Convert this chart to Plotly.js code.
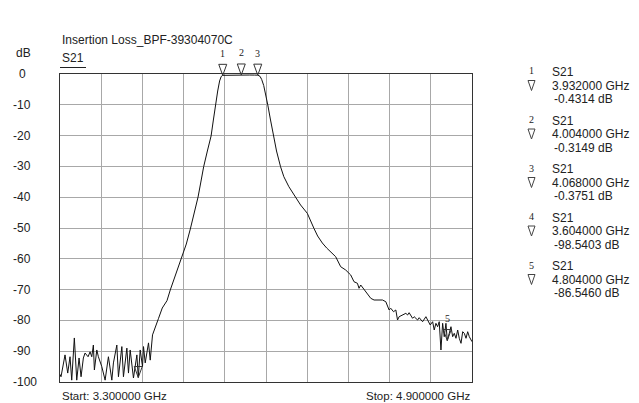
<!DOCTYPE html>
<html>
<head>
<meta charset="utf-8">
<script src="https://cdn.plot.ly/plotly-3.0.1.min.js"></script>
<style>
html,body{margin:0;padding:0;background:#fff;}
#chart{width:639px;height:403px;}
</style>
</head>
<body>
<div id="chart"></div>
<script>
// ---- data ----
const chartTitle = "Insertion Loss_BPF-39304070C";
const traceName = "S21";
const startLabel = "Start: 3.300000 GHz";
const stopLabel = "Stop: 4.900000 GHz";

const freqGHz = [
  3.300,3.3039,3.3195,3.3300,3.3389,3.3455,3.3557,3.3650,3.3740,3.3818,
  3.3907,3.3973,3.4090,3.4168,3.4234,3.4296,3.4335,3.4429,3.4491,3.4623,
  3.4752,3.4880,3.5013,3.5075,3.5207,3.5270,3.5402,3.5464,3.5597,3.5659,
  3.5725,3.5853,3.5986,3.6040,3.6114,3.6204,3.6243,3.6309,3.6437,3.6504,
  3.6593,3.6671,
  3.6827,3.6971,3.7154,3.7282,3.7477,3.7730,3.7905,3.8061,3.8217,3.8361,
  3.8470,3.8579,3.8723,3.8867,3.8956,3.9034,3.9124,3.9198,3.9260,3.932,
  3.950,3.975,4.004,4.035,4.055,4.068,
  4.0767,4.0833,4.0911,4.0981,4.1070,4.1168,4.1281,4.1409,4.1565,4.1693,
  4.1888,4.2149,4.2343,4.2604,4.2733,4.2861,4.3005,4.3188,4.3356,4.3511,
  4.3706,4.3901,4.4095,4.4290,4.4418,4.4551,4.4613,4.4679,4.4874,4.5069,
  4.5197,4.5524,4.5653,4.5781,4.5847,4.5952,4.6042,4.6108,4.6170,4.6303,
  4.6431,4.6497,4.6559,4.6692,4.6754,4.6887,4.6949,4.7081,4.7210,4.7276,
  4.7377,4.7471,4.7533,4.7599,4.7665,4.7727,4.7794,4.7860,4.7922,4.7988,
  4.804,4.8117,4.8183,4.8249,4.8312,4.8378,4.8444,4.8506,4.8573,4.8639,
  4.8701,4.8767,4.8833,4.8895,4.8962,4.900
];
const s21dB = [
  -97.5,-98.3,-91.2,-97.1,-91.8,-99.4,-85.7,-99.4,-92.2,-98.3,
  -92.2,-90.6,-91.8,-90.2,-91.8,-88.0,-96.1,-89.6,-91.8,-95.0,
  -99.4,-91.8,-99.4,-93.8,-88.0,-98.3,-88.5,-98.3,-89.0,-97.1,
  -89.6,-98.7,-91.2,-98.54,-89.6,-95.0,-88.5,-93.8,-87.3,-92.9,
  -84.7,-83.1,
  -79.32,-75.98,-73.60,-70.13,-65.59,-59.90,-55.20,-50.33,-45.13,-39.94,
  -35.07,-30.10,-25.00,-20.13,-14.94,-10.07,-5.52,-2.27,-0.81,-0.4314,
  -0.38,-0.34,-0.3149,-0.33,-0.35,-0.3751,
  -0.75,-1.79,-3.73,-6.27,-10.07,-14.61,-20.13,-25.00,-30.10,-33.34,
  -36.59,-39.94,-42.53,-45.23,-47.40,-50.10,-52.60,-54.87,-56.49,-57.79,
  -59.32,-62.57,-63.64,-65.26,-67.44,-67.96,-69.58,-68.51,-70.68,-72.83,
  -73.38,-73.38,-73.93,-76.62,-76.07,-77.18,-76.62,-79.87,-78.80,-78.25,
  -77.70,-78.25,-77.50,-79.32,-78.80,-79.87,-79.12,-80.42,-78.80,-79.87,
  -81.49,-80.42,-83.12,-80.94,-82.05,-80.42,-89.61,-80.94,-85.29,-80.94,
  -86.546,-84.19,-82.05,-85.29,-84.19,-85.81,-83.12,-85.81,-87.44,-83.67,
  -84.19,-85.81,-83.67,-85.29,-86.36,-86.91
];

const markerNums  = ["1","2","3","4","5"];
const markerFreqs = [3.932, 4.004, 4.068, 3.604, 4.804];
const markerVals  = [-0.4314, -0.3149, -0.3751, -98.5403, -86.5460];
const markerShowLabel = [true, true, true, false, true];
const markerFreqText = ["3.932000 GHz","4.004000 GHz","4.068000 GHz","3.604000 GHz","4.804000 GHz"];
const markerValText  = ["-0.4314 dB","-0.3149 dB","-0.3751 dB","-98.5403 dB","-86.5460 dB"];

const xRange = [3.3, 4.9];
const yRange = [-100, 0];
const yTickVals   = [0,-10,-20,-30,-40,-50,-60,-70,-80,-90,-100];
const yTickLabels = ["0","-10","-20","-30","-40","-50","-60","-70","-80","-90","-100"];

// ---- layout helpers (pixel -> paper) ----
const M = {l:60, r:167, t:74, b:21};
const W = 639, H = 403;
const PW = W - M.l - M.r, PH = H - M.t - M.b;
const px2x = p => (p - M.l) / PW;
const py2y = p => (H - M.b - p) / PH;
const val2paperY = v => (v - yRange[0]) / (yRange[1] - yRange[0]);

const sansFont = {family:"Liberation Sans, Arial, sans-serif", size:12, color:"#222"};
const smallSans = {family:"Liberation Sans, Arial, sans-serif", size:11.5, color:"#222"};
const serifFont = {family:"Liberation Serif, Times New Roman, serif", size:10, color:"#222"};

const annotations = [];
const shapes = [];

// title, S21 label, dB unit
annotations.push({text:chartTitle, xref:"paper", yref:"paper", x:px2x(60), y:py2y(40), xanchor:"left", yanchor:"middle", showarrow:false, font:sansFont});
annotations.push({text:traceName, xref:"paper", yref:"paper", x:px2x(60), y:py2y(58), xanchor:"left", yanchor:"middle", showarrow:false, font:sansFont});
annotations.push({text:"dB", xref:"paper", yref:"paper", x:px2x(14), y:py2y(53), xanchor:"left", yanchor:"middle", showarrow:false, font:sansFont});
shapes.push({type:"line", xref:"paper", yref:"paper", x0:px2x(60), x1:px2x(86), y0:py2y(67.5), y1:py2y(67.5), line:{color:"#222", width:1}});

// y tick labels on the axis scale
yTickVals.forEach((v,i)=>{
  const lbl = yTickLabels[i];
  annotations.push({text:lbl, xref:"paper", yref:"y", x:px2x(lbl.startsWith("-")?11:17), y:v, xanchor:"left", yanchor:"middle", showarrow:false, font:sansFont});
});

// start / stop
annotations.push({text:startLabel, xref:"paper", yref:"paper", x:px2x(60), y:py2y(395.5), xanchor:"left", yanchor:"middle", showarrow:false, font:smallSans});
annotations.push({text:stopLabel, xref:"paper", yref:"paper", x:px2x(471.5), y:py2y(395.5), xanchor:"right", yanchor:"middle", showarrow:false, font:smallSans});

// markers on trace (open down-triangles, tip on the data point)
markerFreqs.forEach((f,i)=>{
  shapes.push({type:"path", xref:"x", yref:"paper", xsizemode:"pixel", ysizemode:"pixel",
    xanchor:f, yanchor:val2paperY(markerVals[i]), path:"M -4 11 L 4 11 L 0 0 Z",
    line:{color:"#333", width:1}, fillcolor:"rgba(255,255,255,0)"});
  if (markerShowLabel[i]) {
    annotations.push({text:markerNums[i], xref:"x", yref:"y", x:f, y:markerVals[i], yshift:22, xanchor:"center", yanchor:"middle", showarrow:false, font:serifFont});
  }
});

// right-side marker table
const rowTop = 72, rowGap = 13.5, blockGap = 48.5;
markerNums.forEach((n,i)=>{
  const y0 = rowTop + i*blockGap;
  annotations.push({text:n, xref:"paper", yref:"paper", x:px2x(531.5), y:py2y(y0-1), xanchor:"center", yanchor:"middle", showarrow:false, font:serifFont});
  annotations.push({text:traceName, xref:"paper", yref:"paper", x:px2x(550), y:py2y(y0), xanchor:"left", yanchor:"middle", showarrow:false, font:sansFont});
  annotations.push({text:markerFreqText[i], xref:"paper", yref:"paper", x:px2x(550), y:py2y(y0+rowGap), xanchor:"left", yanchor:"middle", showarrow:false, font:sansFont});
  annotations.push({text:markerValText[i], xref:"paper", yref:"paper", x:px2x(552), y:py2y(y0+2*rowGap), xanchor:"left", yanchor:"middle", showarrow:false, font:sansFont});
  shapes.push({type:"path", xref:"paper", yref:"paper", xsizemode:"pixel", ysizemode:"pixel",
    xanchor:px2x(531.5), yanchor:py2y(y0+rowGap+5), path:"M -3.5 10 L 3.5 10 L 0 0 Z",
    line:{color:"#444", width:1}, fillcolor:"rgba(255,255,255,0)"});
});

const trace = {
  x: freqGHz, y: s21dB, type:"scatter", mode:"lines",
  line:{color:"#111", width:1}, hoverinfo:"skip", showlegend:false
};

const layout = {
  width:W, height:H,
  margin:M,
  paper_bgcolor:"#fff", plot_bgcolor:"#fff",
  showlegend:false,
  xaxis:{range:xRange, tick0:3.3, dtick:0.16, showgrid:true, gridcolor:"#a8a8a8", gridwidth:1,
         showline:true, mirror:true, linecolor:"#333", linewidth:1, zeroline:false,
         showticklabels:false, ticks:"", fixedrange:true},
  yaxis:{range:yRange, tick0:0, dtick:10, showgrid:true, gridcolor:"#a8a8a8", gridwidth:1,
         showline:true, mirror:true, linecolor:"#333", linewidth:1, zeroline:false,
         showticklabels:false, ticks:"", fixedrange:true},
  annotations: annotations,
  shapes: shapes
};

Plotly.newPlot("chart", [trace], layout, {staticPlot:true, displayModeBar:false});
</script>
</body>
</html>
